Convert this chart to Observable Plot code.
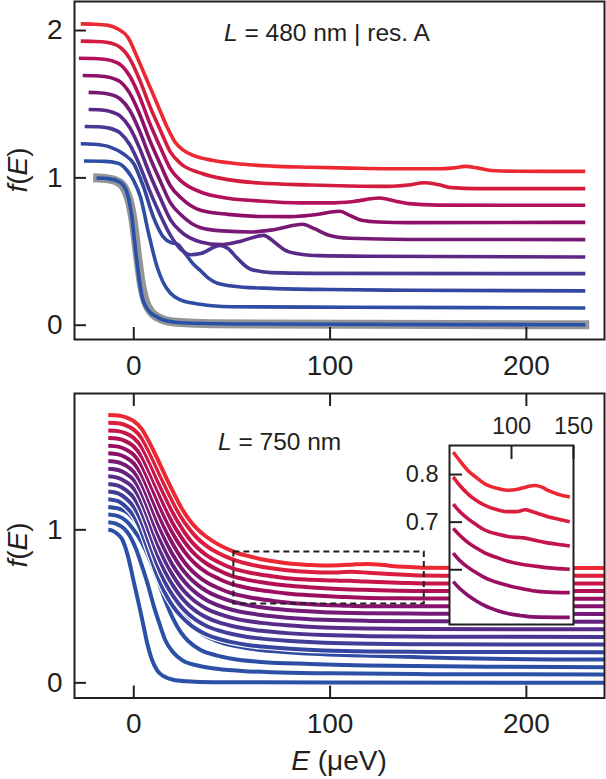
<!DOCTYPE html>
<html><head><meta charset="utf-8">
<script src="https://cdn.jsdelivr.net/npm/d3@7"></script>
<script src="https://cdn.jsdelivr.net/npm/@observablehq/plot@0.6"></script>
<style>
body{margin:0;background:#fff;}
#wrap{position:relative;width:606px;height:779px;overflow:hidden;font-family:"Liberation Sans",Arial,sans-serif;}
#wrap > div{position:absolute;}
</style></head><body>
<div id="wrap"><div id="top" style="left:0;top:0"></div><div id="bot" style="left:0;top:380px"></div><div id="ins" style="left:399px;top:405px"></div></div>
<script>
// ---------- shared axes ----------
const xDomain = [-30.2, 239.8];
const xTicks = [0, 100, 200];
const topYDomain = [-0.097, 2.197];
const topYTicks = [0, 1, 2];
const botYDomain = [-0.099, 1.891];
const botYTicks = [0, 1];
const insetXDomain = [50, 150];
const insetYDomain = [0.485, 0.861];
const insetXTicks = [100, 150];
const insetYTicks = [0.6, 0.7, 0.8];
const insetRange = [53, 147];
const zoomBox = [{x1: 51, x2: 148, y1: 0.515, y2: 0.855}];

// ---------- top panel (L = 480 nm), plotted values [E, f] ----------
const t1 = [[-27,2.045],[-20,2.043],[-13,2.035],[-8,2.01],[-3,1.955],[2,1.81],[7,1.655],[12,1.50],[17,1.344],[21,1.243],[25,1.19],[30,1.155],[40,1.119],[56,1.092],[70,1.08],[90,1.072],[110,1.066],[130,1.062],[155,1.062],[163,1.068],[169,1.078],[175,1.068],[182,1.05],[195,1.045],[230,1.044]];
const t2 = [[-27,1.928],[-20,1.926],[-14,1.92],[-7,1.887],[-2,1.808],[3,1.665],[8,1.492],[13.6,1.322],[18.7,1.175],[24,1.096],[34,1.033],[48,0.988],[64,0.965],[90,0.952],[110,0.945],[130,0.942],[140,0.952],[148,0.967],[155,0.955],[162,0.934],[175,0.927],[230,0.927]];
const t3 = [[-28,1.812],[-20,1.81],[-14,1.803],[-7,1.77],[-2,1.69],[3,1.55],[8,1.375],[13.6,1.205],[18.7,1.06],[24,0.98],[34,0.904],[48,0.862],[64,0.843],[85,0.83],[100,0.83],[112,0.84],[125,0.863],[133,0.843],[140,0.825],[155,0.815],[230,0.814]];
const t4 = [[-26,1.695],[-20,1.693],[-14,1.686],[-7,1.653],[-2,1.573],[3,1.432],[8,1.26],[13.6,1.09],[18.7,0.945],[24,0.865],[34,0.78],[48,0.752],[64,0.738],[80,0.737],[92,0.75],[105,0.773],[110,0.745],[116,0.712],[125,0.70],[140,0.696],[230,0.698]];
const t5 = [[-23,1.58],[-18,1.578],[-13,1.57],[-7,1.537],[-2,1.457],[3,1.316],[8,1.145],[13.6,0.975],[18.7,0.83],[24,0.75],[34,0.662],[45,0.64],[59.5,0.633],[72,0.65],[86,0.685],[92,0.655],[99,0.612],[110,0.59],[140,0.582],[230,0.581]];
const t6 = [[-23,1.464],[-18,1.462],[-13,1.454],[-7,1.42],[-2,1.34],[3,1.2],[8,1.03],[13.6,0.86],[18.7,0.715],[24,0.635],[34,0.565],[44,0.547],[55,0.572],[66,0.61],[72,0.56],[77,0.51],[85,0.482],[95,0.472],[120,0.468],[230,0.463]];
const t7 = [[-25,1.349],[-18,1.347],[-13,1.339],[-7,1.305],[-2,1.225],[3,1.085],[8,0.915],[13.6,0.745],[18.7,0.61],[24,0.515],[29,0.478],[34,0.486],[44,0.542],[48,0.52],[52.7,0.455],[59.5,0.38],[70,0.357],[90,0.352],[230,0.35]];
const t8 = [[-27,1.232],[-20,1.228],[-12,1.209],[-5,1.16],[0,1.096],[5,0.937],[10,0.734],[15,0.60],[19,0.56],[22,0.552],[26,0.49],[30,0.42],[34,0.37],[38,0.32],[43,0.283],[56,0.258],[70,0.25],[100,0.242],[140,0.237],[230,0.233]];
const t9 = [[-25.4,1.114],[-15,1.112],[-8,1.10],[-3.4,1.05],[0,0.98],[3.4,0.87],[7.6,0.62],[11.9,0.395],[15,0.29],[18.7,0.217],[24,0.17],[30.6,0.149],[40,0.132],[50,0.125],[110,0.122],[230,0.117]];
const t10 = [[-19,0.999],[-13,0.995],[-7,0.97],[-4,0.92],[-2.5,0.85],[-1,0.74],[0,0.62],[1.7,0.42],[3,0.29],[4.3,0.19],[6,0.13],[8.5,0.085],[12,0.055],[15,0.035],[18.7,0.025],[30,0.013],[60,0.008],[230,0.003]];
const tGray = [[-20.7,1.0],[-13,0.993],[-7,0.965],[-4,0.91],[-2,0.83],[0,0.68],[2,0.46],[4,0.27],[6,0.16],[8.5,0.095],[12,0.055],[16,0.032],[22,0.02],[40,0.01],[232,0.003]];
const topSeries = [t1, t2, t3, t4, t5, t6, t7, t8, t9, t10];
const topColors = ["#ec2832","#d41c3e","#b3115a","#8e0f69","#761a76","#5d2786","#4a3793","#3447a0","#2d4ea4","#2b51a6"];
const grayColor = "#939598";

// ---------- bottom panel (L = 750 nm), distributions [E, f] and vertical offsets ----------
const b1 = [[-13,1.0],[-11,0.995],[-8.5,0.975],[-6,0.94],[-3,0.83],[0,0.66],[3,0.49],[5,0.37],[7,0.25],[9,0.16],[12,0.08],[15,0.045],[20,0.02],[27,0.01],[40,0.004],[239.8,0.0]];
const b2 = [[-13,1.0],[-9,0.99],[-5,0.96],[-2,0.91],[1,0.83],[4,0.72],[7,0.6],[10,0.46],[13,0.34],[16,0.23],[20,0.15],[25,0.095],[32,0.065],[40,0.045],[55,0.028],[70,0.019],[100,0.012],[150,0.007],[239.8,0.004]];
const b3 = [[-13,1.0],[-8,0.99],[-4,0.96],[0,0.9],[4,0.82],[8,0.71],[12,0.58],[16,0.44],[20,0.32],[24,0.23],[28,0.17],[34,0.115],[42,0.08],[50,0.058],[65,0.037],[90,0.024],[130,0.012],[180,0.006],[239.8,0.002]];
const b4 = [[-13,1.0],[-8,0.99],[-4,0.97],[0,0.92],[5,0.83],[10,0.71],[15,0.57],[20,0.43],[25,0.31],[30,0.22],[36,0.16],[42,0.125],[50,0.095],[60,0.072],[80,0.048],[117,0.028],[160,0.012],[239.8,0.002]];
const b5 = [[-13,1.0],[-8,0.987],[-4,0.95],[0,0.89],[4,0.785],[8,0.64],[12,0.5],[16,0.385],[20,0.3],[24,0.237],[28,0.188],[32,0.15],[37,0.116],[43,0.088],[50,0.066],[58,0.048],[65,0.038],[78,0.024],[97,0.012],[120,0.005],[150,0.002],[239.8,0.0]];
const b6 = [[-13,1.0],[-8,0.988],[-4,0.955],[0,0.9],[4,0.8],[8,0.66],[12,0.52],[16,0.405],[20,0.318],[24,0.25],[28,0.198],[32,0.158],[37,0.122],[43,0.093],[50,0.069],[58,0.05],[65,0.039],[78,0.025],[97,0.012],[120,0.005],[150,0.002],[239.8,0.0]];
const b7 = [[-13,1.0],[-8,0.989],[-4,0.96],[0,0.91],[4,0.815],[8,0.68],[12,0.54],[16,0.425],[20,0.335],[24,0.262],[28,0.207],[32,0.166],[37,0.128],[43,0.097],[50,0.072],[58,0.052],[65,0.04],[78,0.025],[97,0.012],[120,0.005],[150,0.002],[239.8,0.0]];
const b8 = [[-13,1.0],[-8,0.99],[-4,0.964],[0,0.92],[4,0.83],[8,0.7],[12,0.56],[16,0.445],[20,0.35],[24,0.275],[28,0.218],[32,0.175],[37,0.135],[43,0.102],[50,0.075],[58,0.054],[65,0.042],[78,0.026],[97,0.012],[120,0.005],[150,0.002],[239.8,0.0]];
const b9 = [[-13,1.0],[-8,0.991],[-4,0.967],[0,0.925],[4,0.84],[8,0.715],[12,0.58],[16,0.465],[20,0.365],[24,0.29],[28,0.23],[32,0.185],[37,0.142],[43,0.107],[50,0.078],[58,0.056],[65,0.043],[78,0.026],[97,0.012],[120,0.005],[150,0.002],[239.8,0.0]];
const b10 = [[-13,1.0],[-8,0.992],[-4,0.97],[0,0.93],[4,0.85],[8,0.73],[12,0.6],[16,0.485],[20,0.385],[24,0.305],[28,0.243],[32,0.195],[37,0.15],[43,0.113],[50,0.082],[58,0.058],[65,0.044],[78,0.026],[97,0.012],[120,0.005],[150,0.002],[239.8,0.0]];
const b11 = [[-13,1.0],[-8,0.993],[-4,0.972],[0,0.935],[4,0.86],[8,0.745],[12,0.62],[16,0.505],[20,0.405],[24,0.32],[28,0.255],[32,0.205],[37,0.158],[43,0.12],[50,0.085],[53,0.075],[58,0.061],[65,0.046],[72,0.034],[78,0.025],[90,0.013],[97,0.008],[107,0.004],[117,0.001],[147,0.0],[239.8,0.0]];
const b12 = [[-13,1.0],[-8,0.994],[-4,0.975],[0,0.94],[4,0.87],[8,0.76],[12,0.64],[16,0.525],[20,0.425],[24,0.34],[28,0.272],[32,0.22],[37,0.172],[43,0.132],[50,0.095],[53,0.085],[58,0.07],[65,0.055],[72,0.043],[78,0.034],[90,0.022],[97,0.017],[107,0.011],[117,0.006],[130,0.003],[147,0.002],[239.8,0.0]];
const b13 = [[-13,1.0],[-8,0.995],[-4,0.978],[0,0.945],[4,0.88],[8,0.775],[12,0.66],[16,0.545],[20,0.44],[24,0.355],[28,0.285],[32,0.23],[37,0.18],[43,0.137],[50,0.098],[53,0.087],[58,0.073],[65,0.057],[72,0.045],[78,0.036],[90,0.024],[97,0.018],[107,0.012],[118,0.008],[130,0.004],[147,0.001],[239.8,0.0]];
const b14 = [[-13,1.0],[-8,0.995],[-4,0.98],[0,0.95],[4,0.89],[8,0.79],[12,0.675],[16,0.565],[20,0.46],[24,0.37],[28,0.295],[32,0.238],[37,0.185],[43,0.14],[50,0.1],[53,0.088],[58,0.073],[65,0.057],[72,0.044],[78,0.034],[90,0.024],[97,0.02],[104,0.018],[110,0.017],[117,0.013],[128,0.007],[138,0.003],[147,0.0],[239.8,0.0]];
const b15 = [[-13,1.0],[-8,0.996],[-4,0.983],[0,0.955],[4,0.9],[8,0.805],[12,0.695],[16,0.585],[20,0.48],[24,0.385],[28,0.31],[32,0.25],[37,0.195],[43,0.148],[50,0.108],[53,0.095],[58,0.078],[65,0.059],[72,0.045],[78,0.036],[90,0.025],[97,0.022],[104,0.022],[111,0.026],[117,0.022],[124,0.016],[130,0.011],[138,0.006],[147,0.001],[170,0.0],[239.8,0.0]];
const b16 = [[-13,1.0],[-8,0.997],[-4,0.985],[0,0.96],[4,0.91],[8,0.82],[12,0.715],[16,0.605],[20,0.50],[24,0.40],[28,0.32],[32,0.26],[37,0.205],[43,0.155],[50,0.112],[53,0.097],[58,0.08],[65,0.058],[72,0.043],[78,0.031],[90,0.02],[97,0.017],[105,0.019],[112,0.024],[119,0.027],[124,0.024],[130,0.016],[138,0.008],[147,0.003],[170,0.001],[239.8,0.0]];
const botSeries = [b1,b2,b3,b4,b5,b6,b7,b8,b9,b10,b11,b12,b13,b14,b15,b16];
const botOffsets = [0,0.05,0.10,0.15,0.20,0.25,0.30,0.35,0.40,0.45,0.50,0.55,0.60,0.65,0.70,0.75];
const botColors = ["#2b51a6","#2b50a5","#2c4ea4","#2f4aa2","#36459f","#413e99","#4c3592","#5a2a89","#66207f","#751a76","#87126b","#9c0f60","#b21055","#c6154a","#db1e3e","#ec2832"];
const insetSeries = [10, 11, 12, 13, 14, 15];

const ink = "#231f20";
const font = "'Liberation Sans', Arial, Helvetica, sans-serif";
const px = d => d[0];
const intFmt = d => String(d);

// ---------- top plot ----------
const topPlot = Plot.plot({
  width: 606, height: 380,
  marginLeft: 74, marginRight: 2, marginTop: 1, marginBottom: 41,
  x: {domain: xDomain}, y: {domain: topYDomain},
  style: {fontFamily: font, fontSize: "28px", color: ink, background: "transparent", overflow: "visible"},
  marks: [
    Plot.line(tGray, {x: px, y: d => d[1], stroke: grayColor, strokeWidth: 9, curve: "monotone-x", strokeLinecap: "butt"}),
    ...topSeries.slice().reverse().map((s, j) => Plot.line(s, {x: px, y: d => d[1], stroke: topColors[topSeries.length - 1 - j], strokeWidth: 3.6, curve: "monotone-x", strokeLinecap: "butt"})),
    Plot.axisX({ticks: xTicks, tickSize: -12, tickPadding: 28, strokeWidth: 2, label: null, tickFormat: intFmt}),
    Plot.axisY({ticks: topYTicks, tickSize: -12, tickPadding: 24, strokeWidth: 2, label: null, tickFormat: intFmt}),
    Plot.frame({stroke: ink, strokeWidth: 2})
  ]
});
document.getElementById("top").appendChild(topPlot);

// ---------- bottom plot ----------
const botMarks = [];
botSeries.forEach((s, i) => {
  botMarks.push(Plot.line(s, {x: px, y: d => d[1] + botOffsets[i], stroke: "white", strokeWidth: 6.4, curve: "monotone-x", strokeLinecap: "butt"}));
  botMarks.push(Plot.line(s, {x: px, y: d => d[1] + botOffsets[i], stroke: botColors[i], strokeWidth: 4, curve: "monotone-x", strokeLinecap: "butt"}));
});
const botPlot = Plot.plot({
  width: 606, height: 399,
  marginLeft: 74, marginRight: 2, marginTop: 13, marginBottom: 81.5,
  x: {domain: xDomain}, y: {domain: botYDomain},
  style: {fontFamily: font, fontSize: "28px", color: ink, background: "transparent", overflow: "visible"},
  marks: [
    ...botMarks,
    Plot.rect(zoomBox, {x1: "x1", x2: "x2", y1: "y1", y2: "y2", fill: "none", stroke: ink, strokeWidth: 2, strokeDasharray: "6,4"}),
    Plot.axisX({ticks: xTicks, tickSize: -12, tickPadding: 27.5, strokeWidth: 2, label: null, tickFormat: intFmt}),
    Plot.axisX({anchor: "top", ticks: xTicks, tickSize: -12, tickFormat: () => "", strokeWidth: 2, label: null}),
    Plot.axisY({ticks: botYTicks, tickSize: -12, tickPadding: 24, strokeWidth: 2, label: null, tickFormat: intFmt}),
    Plot.frame({stroke: ink, strokeWidth: 2})
  ]
});
document.getElementById("bot").appendChild(botPlot);

// ---------- inset ----------
const insMarks = [Plot.frame({fill: "white"})];
insetSeries.forEach(i => {
  const part = botSeries[i].filter(d => d[0] >= insetRange[0] && d[0] <= insetRange[1]);
  insMarks.push(Plot.line(part, {x: px, y: d => d[1] + botOffsets[i], stroke: botColors[i], strokeWidth: 3.6, curve: "monotone-x", strokeLinecap: "butt", clip: true}));
});
const insPlot = Plot.plot({
  width: 185, height: 224,
  marginLeft: 50, marginRight: 11, marginTop: 40, marginBottom: 5,
  x: {domain: insetXDomain}, y: {domain: insetYDomain},
  style: {fontFamily: font, fontSize: "23.5px", color: ink, background: "transparent", overflow: "visible"},
  marks: [
    ...insMarks,
    Plot.axisX({anchor: "top", ticks: insetXTicks, tickSize: -13, tickPadding: 25, strokeWidth: 2, label: null, tickFormat: intFmt}),
    Plot.axisY({ticks: insetYTicks, tickSize: -13, tickPadding: 24, strokeWidth: 2, label: null, tickFormat: d => d === 0.6 ? "" : d.toFixed(1)}),
    Plot.frame({stroke: ink, strokeWidth: 2})
  ]
});
document.getElementById("ins").appendChild(insPlot);

// ---------- text annotations ----------
const svg = d3.select("#wrap").append("svg")
  .attr("width", 606).attr("height", 779)
  .style("position", "absolute").style("left", 0).style("top", 0)
  .style("pointer-events", "none")
  .attr("font-family", font).attr("fill", ink);

function rich(sel, parts) {
  parts.forEach(([t, it]) => sel.append("tspan").attr("font-style", it ? "italic" : "normal").text(t));
}
rich(svg.append("text").attr("x", 224).attr("y", 41).attr("font-size", 24.5),
  [["L", true], [" = 480 nm | res. A", false]]);
rich(svg.append("text").attr("x", 218).attr("y", 450).attr("font-size", 24.5),
  [["L", true], [" = 750 nm", false]]);
[170, 545].forEach(cy => {
  rich(svg.append("text").attr("transform", `translate(27,${cy}) rotate(-90)`).attr("text-anchor", "middle").attr("font-size", 28),
    [["f", true], ["(", false], ["E", true], [")", false]]);
});
rich(svg.append("text").attr("x", 339).attr("y", 770).attr("text-anchor", "middle").attr("font-size", 28),
  [["E", true], [" (\u03bceV)", false]]);
</script></body></html>
